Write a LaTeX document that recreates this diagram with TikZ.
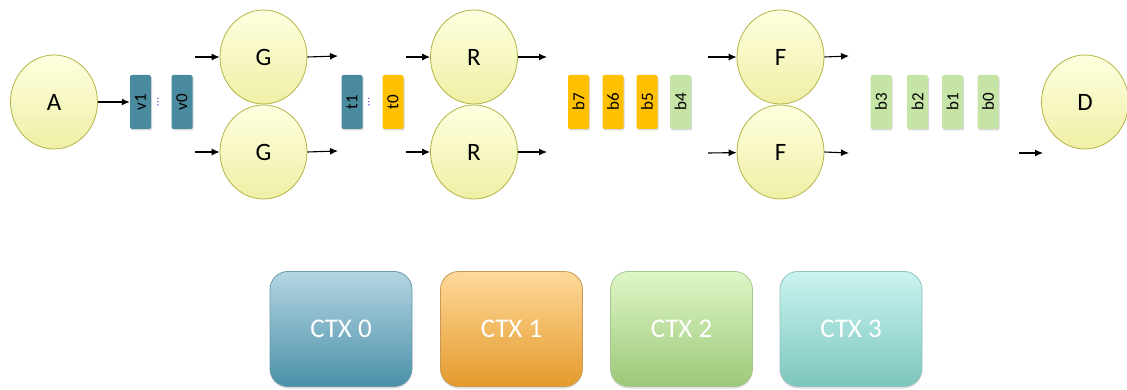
\documentclass[tikz,border=0pt]{standalone}
\usepackage{fontspec}
\setmainfont{Carlito}
\usetikzlibrary{arrows.meta,shadows,shapes.geometric}
\definecolor{circborder}{HTML}{B4B444}
\definecolor{circtop}{HTML}{FFFFE0}
\definecolor{circbot}{HTML}{EFEFA6}
\definecolor{teal}{HTML}{4A8A9E}
\definecolor{gold}{HTML}{FFC000}
\definecolor{lgreen}{HTML}{C5E4A5}
\definecolor{dotc}{HTML}{8A4CD0}
\definecolor{c0top}{HTML}{B4D6E3}
\definecolor{c0bot}{HTML}{4A90A8}
\definecolor{c0bd}{HTML}{6A98AA}
\definecolor{c1top}{HTML}{FFD99A}
\definecolor{c1bot}{HTML}{E49A2C}
\definecolor{c1bd}{HTML}{C89A55}
\definecolor{c2top}{HTML}{DEF6C6}
\definecolor{c2bot}{HTML}{9CC878}
\definecolor{c2bd}{HTML}{A6C890}
\definecolor{c3top}{HTML}{CAF4F0}
\definecolor{c3bot}{HTML}{7CC6BE}
\definecolor{c3bd}{HTML}{92C2BE}
\tikzset{
  proc/.style={ellipse, minimum width=87pt, minimum height=94pt, inner sep=0pt,
    draw=circborder, line width=0.8pt, top color=circtop, bottom color=circbot,
    font=\fontsize{25}{28}\selectfont},
  buf/.style={rectangle, rotate=90, rounded corners=2pt, minimum width=54pt,
    minimum height=21pt, inner sep=0pt, font=\fontsize{17}{20}\selectfont,
    drop shadow={opacity=0.3, shadow xshift=1pt, shadow yshift=-1.5pt}},
  dotsn/.style={rotate=90, inner sep=0pt, text=dotc, font=\fontsize{13}{15}\selectfont},
  flow/.style={-{Latex[length=8pt,width=7pt]}, line width=1.1pt},
  ctx/.style={rectangle, rounded corners=18pt, minimum width=142pt, minimum height=115pt,
    line width=0.8pt, text=white, font=\fontsize{27}{32}\selectfont,
    drop shadow={opacity=0.25, shadow xshift=0pt, shadow yshift=-2pt}}
}
\begin{document}
\begin{tikzpicture}[x=1pt,y=-1pt]
\useasboundingbox (0,0) rectangle (1127,390);
% processes
\node[proc] (A) at (54,102) {A};
\node[proc] (G1) at (263.5,57) {G};
\node[proc] (G2) at (263.5,152) {G};
\node[proc] (R1) at (474,57) {R};
\node[proc] (R2) at (474,152) {R};
\node[proc] (F1) at (780.5,57) {F};
\node[proc] (F2) at (780.5,152) {F};
\node[proc] (D) at (1085,102) {D};
% buffers
\node[buf, fill=teal] (v1) at (140.5,102) {v1};
\node[dotsn] (d1) at (158,102) {\ldots};
\node[buf, fill=teal] (v0) at (182,102) {v0};
\node[buf, fill=teal] (t1) at (352,102) {t1};
\node[dotsn] (d2) at (369,102) {\ldots};
\node[buf, fill=gold] (t0) at (393,102) {t0};
\node[buf, fill=gold] (b7) at (578.5,102) {b7};
\node[buf, fill=gold] (b6) at (613,102) {b6};
\node[buf, fill=gold] (b5) at (647,102) {b5};
\node[buf, fill=lgreen] (b4) at (680.5,102) {b4};
\node[buf, fill=lgreen] (b3) at (881,102) {b3};
\node[buf, fill=lgreen] (b2) at (917.5,102) {b2};
\node[buf, fill=lgreen] (b1) at (952.5,102) {b1};
\node[buf, fill=lgreen] (b0) at (988,102) {b0};
% free arrow ends
\coordinate (gi1) at (195,57);
\coordinate (gi2) at (195,152);
\coordinate (go1) at (338,56);
\coordinate (go2) at (338,151);
\coordinate (ri1) at (406,57);
\coordinate (ri2) at (406,152);
\coordinate (ro1) at (547,57);
\coordinate (ro2) at (547,152);
\coordinate (fi1) at (708,57);
\coordinate (fi2) at (708,153);
\coordinate (fo1) at (849,56);
\coordinate (fo2) at (849,153);
\coordinate (di0) at (1019,153);
\coordinate (di1) at (1043,153);
% arrows
\draw[flow] (A) -- (v1);
\draw[flow] (gi1) -- (G1);
\draw[flow] (gi2) -- (G2);
\draw[flow] (G1.east) -- (go1);
\draw[flow] (G2.east) -- (go2);
\draw[flow] (ri1) -- (R1);
\draw[flow] (ri2) -- (R2);
\draw[flow] (R1.east) -- (ro1);
\draw[flow] (R2.east) -- (ro2);
\draw[flow] (fi1) -- (F1);
\draw[flow] (fi2) -- (F2);
\draw[flow] (F1.east) -- (fo1);
\draw[flow] (F2.east) -- (fo2);
\draw[flow] (di0) -- (di1);
% contexts
\node[ctx, draw=c0bd, top color=c0top, bottom color=c0bot] (c0) at (341,329) {CTX 0};
\node[ctx, draw=c1bd, top color=c1top, bottom color=c1bot] (c1) at (511.5,329) {CTX 1};
\node[ctx, draw=c2bd, top color=c2top, bottom color=c2bot] (c2) at (681.5,329) {CTX 2};
\node[ctx, draw=c3bd, top color=c3top, bottom color=c3bot] (c3) at (851,329) {CTX 3};
\end{tikzpicture}
\end{document}
